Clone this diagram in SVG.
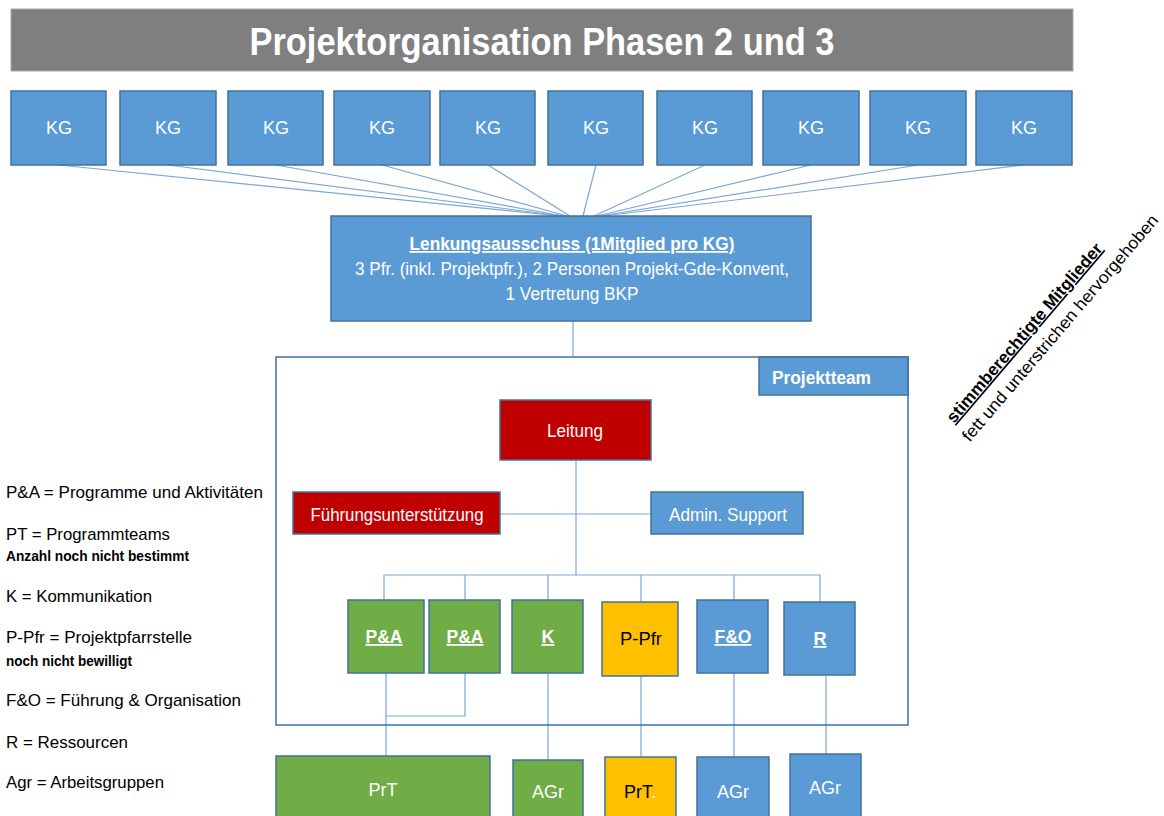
<svg xmlns="http://www.w3.org/2000/svg" width="1164" height="816" viewBox="0 0 1164 816">
  <style>
    text { font-family: "Liberation Sans Narrow", "Liberation Sans", Arial, sans-serif; }
    .blue { fill: #5b9bd5; stroke: #41719c; stroke-width: 1.5; }
    .red { fill: #c00000; stroke: #41719c; stroke-width: 1.5; }
    .green { fill: #70ad47; stroke: #41719c; stroke-width: 1.5; }
    .yellow { fill: #ffc000; stroke: #41719c; stroke-width: 1.5; }
    .lbl { fill: #ffffff; font-size: 18px; text-anchor: middle; }
    .lblb { fill: #ffffff; font-size: 18px; font-weight: bold; text-anchor: middle; text-decoration: underline; }
    .dark { fill: #000000; font-size: 18px; text-anchor: middle; }
    .conn { fill: none; stroke: #7ba7d9; stroke-width: 1.2; }
    .legend { fill: #000000; font-size: 17px; }
    .note { fill: #000000; font-size: 14px; font-weight: bold; }
  </style>

  <!-- title bar -->
  <g id="title">
    <rect x="11" y="9" width="1062" height="62" fill="#7f7f7f" stroke="#a6a6a6" stroke-width="1"/>
    <text x="542" y="55" fill="#ffffff" font-size="38" font-weight="bold" text-anchor="middle" textLength="585" lengthAdjust="spacingAndGlyphs">Projektorganisation Phasen 2 und 3</text>
  </g>

  <!-- connectors -->
  <g id="connectors" class="conn">
    <line x1="59" y1="165" x2="560" y2="216"/>
    <line x1="168" y1="165" x2="562" y2="216"/>
    <line x1="276" y1="165" x2="564" y2="216"/>
    <line x1="382" y1="165" x2="567" y2="216"/>
    <line x1="488" y1="165" x2="570" y2="216"/>
    <line x1="596" y1="165" x2="583" y2="216"/>
    <line x1="705" y1="165" x2="594" y2="216"/>
    <line x1="811" y1="165" x2="597" y2="216"/>
    <line x1="918" y1="165" x2="600" y2="216"/>
    <line x1="1024" y1="165" x2="603" y2="216"/>
    <line x1="573" y1="321" x2="573" y2="357"/>
    <line x1="576" y1="460" x2="576" y2="575"/>
    <line x1="500" y1="514" x2="651" y2="514"/>
    <polyline points="384,600 384,575 820,575 820,602"/>
    <line x1="465" y1="575" x2="465" y2="600"/>
    <line x1="548" y1="575" x2="548" y2="600"/>
    <line x1="641" y1="575" x2="641" y2="602"/>
    <line x1="734" y1="575" x2="734" y2="600"/>
    <polyline points="386,673 386,716 465,716 465,673"/>
    <line x1="386" y1="716" x2="386" y2="756"/>
    <line x1="548" y1="673" x2="548" y2="760"/>
    <line x1="641" y1="676" x2="641" y2="757"/>
    <line x1="734" y1="673" x2="734" y2="757"/>
    <line x1="826" y1="676" x2="826" y2="754"/>
  </g>

  <!-- parishes -->
  <g id="kg1"><rect class="blue" x="11" y="91" width="95" height="74"/><text class="lbl" x="59" y="134">KG</text></g>
  <g id="kg2"><rect class="blue" x="120" y="91" width="96" height="74"/><text class="lbl" x="168" y="134">KG</text></g>
  <g id="kg3"><rect class="blue" x="228" y="91" width="95" height="74"/><text class="lbl" x="276" y="134">KG</text></g>
  <g id="kg4"><rect class="blue" x="334" y="91" width="96" height="74"/><text class="lbl" x="382" y="134">KG</text></g>
  <g id="kg5"><rect class="blue" x="440" y="91" width="95" height="74"/><text class="lbl" x="488" y="134">KG</text></g>
  <g id="kg6"><rect class="blue" x="548" y="91" width="95" height="74"/><text class="lbl" x="596" y="134">KG</text></g>
  <g id="kg7"><rect class="blue" x="657" y="91" width="95" height="74"/><text class="lbl" x="705" y="134">KG</text></g>
  <g id="kg8"><rect class="blue" x="763" y="91" width="96" height="74"/><text class="lbl" x="811" y="134">KG</text></g>
  <g id="kg9"><rect class="blue" x="870" y="91" width="96" height="74"/><text class="lbl" x="918" y="134">KG</text></g>
  <g id="kg10"><rect class="blue" x="976" y="91" width="96" height="74"/><text class="lbl" x="1024" y="134">KG</text></g>

  <!-- steering committee -->
  <g id="lenkungsausschuss">
    <rect class="blue" x="331" y="216" width="480" height="105"/>
    <text class="lblb" x="572" y="250" font-size="17" textLength="325" lengthAdjust="spacingAndGlyphs">Lenkungsausschuss (1Mitglied pro KG)</text>
    <text class="lbl" x="572" y="275" font-size="17" textLength="434" lengthAdjust="spacingAndGlyphs">3 Pfr. (inkl. Projektpfr.), 2 Personen Projekt-Gde-Konvent,</text>
    <text class="lbl" x="572" y="300" font-size="17" textLength="133" lengthAdjust="spacingAndGlyphs">1 Vertretung BKP</text>
  </g>

  <!-- project team frame -->
  <g id="projektteam">
    <rect x="276" y="357" width="632" height="368" fill="none" stroke="#41719c" stroke-width="1.5"/>
    <rect class="blue" x="759" y="357" width="149" height="38"/>
    <text x="772" y="384" fill="#ffffff" font-size="18" font-weight="bold" textLength="99" lengthAdjust="spacingAndGlyphs">Projektteam</text>
  </g>

  <g id="leitung"><rect class="red" x="500" y="400" width="151" height="60"/><text class="lbl" x="575" y="437" textLength="56" lengthAdjust="spacingAndGlyphs">Leitung</text></g>
  <g id="fuehrungsunterstuetzung"><rect class="red" x="293" y="492" width="207" height="42"/><text class="lbl" x="397" y="521" textLength="173" lengthAdjust="spacingAndGlyphs">Führungsunterstützung</text></g>
  <g id="admin-support"><rect class="blue" x="651" y="492" width="152" height="42"/><text class="lbl" x="728" y="521" textLength="118" lengthAdjust="spacingAndGlyphs">Admin. Support</text></g>

  <!-- units -->
  <g id="pa1"><rect class="green" x="348" y="600" width="76" height="73"/><text class="lblb" x="384" y="643" textLength="37" lengthAdjust="spacingAndGlyphs">P&amp;A</text></g>
  <g id="pa2"><rect class="green" x="429" y="600" width="71" height="73"/><text class="lblb" x="465" y="643" textLength="37" lengthAdjust="spacingAndGlyphs">P&amp;A</text></g>
  <g id="k"><rect class="green" x="512" y="600" width="71" height="73"/><text class="lblb" x="548" y="643">K</text></g>
  <g id="p-pfr"><rect class="yellow" x="602" y="602" width="76" height="74"/><text class="dark" x="641" y="645" textLength="42" lengthAdjust="spacingAndGlyphs">P-Pfr</text></g>
  <g id="fo"><rect class="blue" x="697" y="600" width="71" height="73"/><text class="lblb" x="733" y="643" textLength="37" lengthAdjust="spacingAndGlyphs">F&amp;O</text></g>
  <g id="r"><rect class="blue" x="784" y="602" width="71" height="73"/><text class="lblb" x="820" y="645">R</text></g>

  <!-- working groups -->
  <g id="prt1"><rect class="green" x="276" y="756" width="214" height="70"/><text class="lbl" x="383" y="796">PrT</text></g>
  <g id="agr1"><rect class="green" x="513" y="760" width="70" height="66"/><text class="lbl" x="548" y="798">AGr</text></g>
  <g id="prt2"><rect class="yellow" x="605" y="757" width="71" height="69"/><text class="dark" x="640" y="798">PrT<tspan fill="#ffffff">.</tspan></text></g>
  <g id="agr2"><rect class="blue" x="697" y="757" width="72" height="69"/><text class="lbl" x="733" y="798">AGr</text></g>
  <g id="agr3"><rect class="blue" x="790" y="754" width="71" height="72"/><text class="lbl" x="825" y="794">AGr</text></g>

  <!-- abbreviations -->
  <g id="legende">
    <text class="legend" x="6" y="498" textLength="257" lengthAdjust="spacingAndGlyphs">P&amp;A = Programme  und Aktivitäten</text>
    <text class="legend" x="6" y="540" textLength="164" lengthAdjust="spacingAndGlyphs">PT = Programmteams</text>
    <text class="note" x="6" y="561" textLength="183" lengthAdjust="spacingAndGlyphs">Anzahl noch nicht bestimmt</text>
    <text class="legend" x="6" y="602" textLength="146" lengthAdjust="spacingAndGlyphs">K = Kommunikation</text>
    <text class="legend" x="6" y="643" textLength="186" lengthAdjust="spacingAndGlyphs">P-Pfr = Projektpfarrstelle</text>
    <text class="note" x="6" y="666" textLength="126" lengthAdjust="spacingAndGlyphs">noch nicht bewilligt</text>
    <text class="legend" x="6" y="706" textLength="235" lengthAdjust="spacingAndGlyphs">F&amp;O = Führung &amp; Organisation</text>
    <text class="legend" x="6" y="748" textLength="122" lengthAdjust="spacingAndGlyphs">R = Ressourcen</text>
    <text class="legend" x="6" y="788" textLength="158" lengthAdjust="spacingAndGlyphs">Agr = Arbeitsgruppen</text>
  </g>

  <!-- voting members note -->
  <g id="hinweis" transform="translate(954,424) rotate(-49.5)">
    <text x="0" y="0" font-size="17" font-weight="bold" text-decoration="underline" fill="#000000" textLength="230" lengthAdjust="spacingAndGlyphs">stimmberechtigte Mitglieder</text>
    <text x="-4" y="24" font-size="17" fill="#000000" textLength="292" lengthAdjust="spacingAndGlyphs">fett und unterstrichen hervorgehoben</text>
  </g>
</svg>
